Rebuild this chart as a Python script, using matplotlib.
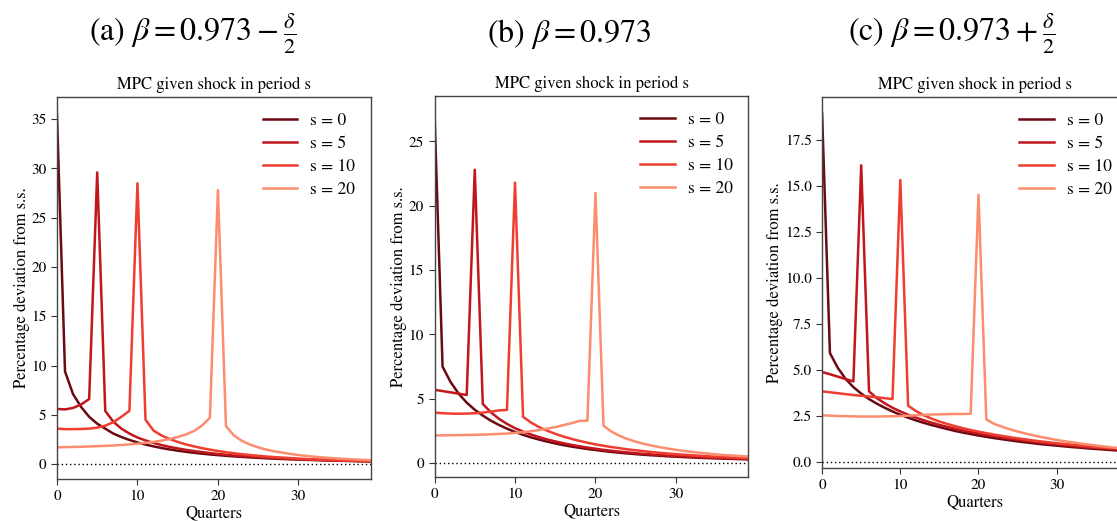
import matplotlib
matplotlib.use("Agg")
import matplotlib.pyplot as plt
import numpy as np

plt.rcParams["font.family"] = ["STIXGeneral", "DejaVu Serif"]
plt.rcParams["mathtext.fontset"] = "stix"

quarters = np.arange(40)
shock_periods = [0, 5, 10, 20]
legend_labels = ["s = 0", "s = 5", "s = 10", "s = 20"]
colors = ["#6b0a12", "#c0161c", "#ef3d2f", "#fc8d6f"]

headers = [r"(a) $\beta = 0.973 - \frac{\delta}{2}$",
           r"(b) $\beta = 0.973$",
           r"(c) $\beta = 0.973 + \frac{\delta}{2}$"]

# panel a: beta - delta/2
a_s0 = [35.5, 9.4, 7.1, 5.8, 4.8, 4.1, 3.6, 3.1, 2.75, 2.45, 2.2, 1.98, 1.8, 1.63, 1.49,
        1.36, 1.25, 1.15, 1.06, 0.98, 0.91, 0.84, 0.78, 0.73, 0.68, 0.63, 0.59, 0.55,
        0.52, 0.49, 0.46, 0.43, 0.41, 0.38, 0.36, 0.34, 0.32, 0.30, 0.28, 0.27]
a_s5 = [5.6, 5.55, 5.7, 6.05, 6.6, 29.6, 5.4, 4.3, 3.6, 3.1, 2.7, 2.4, 2.15, 1.93, 1.75,
        1.59, 1.45, 1.33, 1.22, 1.12, 1.03, 0.95, 0.88, 0.82, 0.76, 0.70, 0.65, 0.61,
        0.57, 0.53, 0.50, 0.47, 0.44, 0.41, 0.39, 0.37, 0.35, 0.33, 0.31, 0.29]
a_s10 = [3.6, 3.55, 3.55, 3.56, 3.6, 3.7, 3.9, 4.25, 4.8, 5.4, 28.5, 4.5, 3.4, 2.9, 2.55,
         2.25, 2.0, 1.8, 1.62, 1.47, 1.33, 1.21, 1.10, 1.0, 0.92, 0.84, 0.77, 0.71,
         0.66, 0.61, 0.56, 0.52, 0.48, 0.45, 0.42, 0.39, 0.36, 0.34, 0.32, 0.30]
a_s20 = [1.7, 1.72, 1.74, 1.76, 1.79, 1.82, 1.85, 1.89, 1.94, 2.0, 2.07, 2.15, 2.25, 2.38,
         2.55, 2.75, 3.0, 3.35, 3.9, 4.7, 27.8, 3.85, 2.9, 2.35, 1.98, 1.7, 1.48, 1.3,
         1.16, 1.03, 0.92, 0.83, 0.75, 0.68, 0.62, 0.56, 0.51, 0.47, 0.43, 0.40]

# panel b: beta
b_s0 = [27.2, 7.5, 6.3, 5.4, 4.7, 4.15, 3.7, 3.3, 2.97, 2.68, 2.43, 2.2, 2.0, 1.83, 1.67,
        1.53, 1.4, 1.29, 1.19, 1.1, 1.02, 0.94, 0.87, 0.81, 0.75, 0.70, 0.65, 0.61,
        0.57, 0.53, 0.50, 0.47, 0.44, 0.41, 0.39, 0.37, 0.35, 0.33, 0.31, 0.29]
b_s5 = [5.7, 5.6, 5.5, 5.4, 5.3, 22.8, 4.6, 3.95, 3.45, 3.05, 2.72, 2.45, 2.22, 2.02, 1.84,
        1.69, 1.55, 1.42, 1.31, 1.21, 1.12, 1.03, 0.96, 0.89, 0.83, 0.77, 0.72, 0.67,
        0.63, 0.59, 0.55, 0.52, 0.49, 0.46, 0.43, 0.41, 0.39, 0.37, 0.35, 0.33]
b_s10 = [3.93, 3.88, 3.85, 3.84, 3.85, 3.88, 3.93, 4.0, 4.1, 4.13, 21.8, 3.6, 3.15, 2.8,
         2.52, 2.28, 2.07, 1.89, 1.73, 1.59, 1.46, 1.35, 1.25, 1.16, 1.07, 1.0, 0.93,
         0.86, 0.80, 0.75, 0.70, 0.65, 0.61, 0.57, 0.53, 0.50, 0.47, 0.44, 0.41, 0.39]
b_s20 = [2.15, 2.16, 2.17, 2.18, 2.19, 2.2, 2.22, 2.24, 2.27, 2.3, 2.35, 2.41, 2.48, 2.57,
         2.68, 2.8, 2.95, 3.1, 3.28, 3.3, 21.0, 2.9, 2.45, 2.12, 1.87, 1.67, 1.5, 1.36,
         1.24, 1.13, 1.03, 0.95, 0.87, 0.80, 0.74, 0.68, 0.63, 0.59, 0.55, 0.51]

# panel c: beta + delta/2
c_s0 = [18.9, 5.9, 5.1, 4.5, 4.05, 3.7, 3.4, 3.15, 2.93, 2.73, 2.55, 2.39, 2.24, 2.11,
        1.99, 1.88, 1.77, 1.67, 1.58, 1.5, 1.42, 1.35, 1.28, 1.22, 1.16, 1.1, 1.05, 1.0,
        0.95, 0.91, 0.87, 0.83, 0.79, 0.76, 0.72, 0.69, 0.66, 0.63, 0.60, 0.58]
c_s5 = [4.87, 4.75, 4.62, 4.49, 4.36, 16.1, 3.82, 3.45, 3.17, 2.93, 2.73, 2.55, 2.39, 2.25,
        2.12, 2.0, 1.89, 1.79, 1.7, 1.61, 1.53, 1.45, 1.38, 1.31, 1.25, 1.19, 1.13, 1.08,
        1.03, 0.98, 0.94, 0.90, 0.86, 0.82, 0.78, 0.75, 0.72, 0.69, 0.66, 0.63]
c_s10 = [3.82, 3.77, 3.72, 3.67, 3.62, 3.58, 3.54, 3.5, 3.45, 3.4, 15.3, 3.04, 2.75, 2.52,
         2.34, 2.18, 2.05, 1.93, 1.82, 1.72, 1.63, 1.55, 1.47, 1.4, 1.33, 1.27, 1.21,
         1.15, 1.1, 1.05, 1.0, 0.96, 0.92, 0.88, 0.84, 0.80, 0.77, 0.74, 0.71, 0.68]
c_s20 = [2.52, 2.5, 2.48, 2.47, 2.46, 2.45, 2.45, 2.45, 2.46, 2.47, 2.48, 2.5, 2.52, 2.54,
         2.56, 2.57, 2.58, 2.59, 2.59, 2.6, 14.5, 2.3, 2.05, 1.9, 1.76, 1.64, 1.53, 1.43,
         1.34, 1.26, 1.18, 1.11, 1.05, 0.99, 0.93, 0.88, 0.83, 0.78, 0.74, 0.70]

panels = [[a_s0, a_s5, a_s10, a_s20],
          [b_s0, b_s5, b_s10, b_s20],
          [c_s0, c_s5, c_s10, c_s20]]

# axes boxes in figure fraction (right panel runs off the edge in the original)
boxes = [[0.051, 0.081, 0.281, 0.733],
         [0.389, 0.085, 0.281, 0.731],
         [0.736, 0.102, 0.273, 0.712]]
header_x = [0.172, 0.510, 0.852]

fig = plt.figure(figsize=(11.17, 5.21), dpi=100)

for i, series in enumerate(panels):
    ax = fig.add_axes(boxes[i])
    for vals, lab, col in zip(series, legend_labels, colors):
        ax.plot(quarters, vals, color=col, lw=1.8, label=lab)
    ax.axhline(0, color="black", lw=1.0, ls=(0, (1, 2)))
    ax.set_xlim(0, 39)
    ax.set_xticks([0, 10, 20, 30])
    ax.set_title("MPC given shock in period s", fontsize=12, pad=6)
    ax.set_xlabel("Quarters", fontsize=12, labelpad=2)
    ax.set_ylabel("Percentage deviation from s.s.", fontsize=12, labelpad=1)
    ax.tick_params(labelsize=11, length=4, color="#333333")
    for sp in ax.spines.values():
        sp.set_color("#444444")
        sp.set_linewidth(1.0)
    ax.legend(loc="upper right", frameon=False, fontsize=12.5, handlelength=2.0,
              handletextpad=0.75, labelspacing=0.4)
    if i == 2:
        ax.yaxis.set_major_formatter(matplotlib.ticker.FormatStrFormatter("%.1f"))
    fig.text(header_x[i], 0.935, headers[i], ha="center", va="center", fontsize=23)

fig.savefig("out.png", dpi=100)
